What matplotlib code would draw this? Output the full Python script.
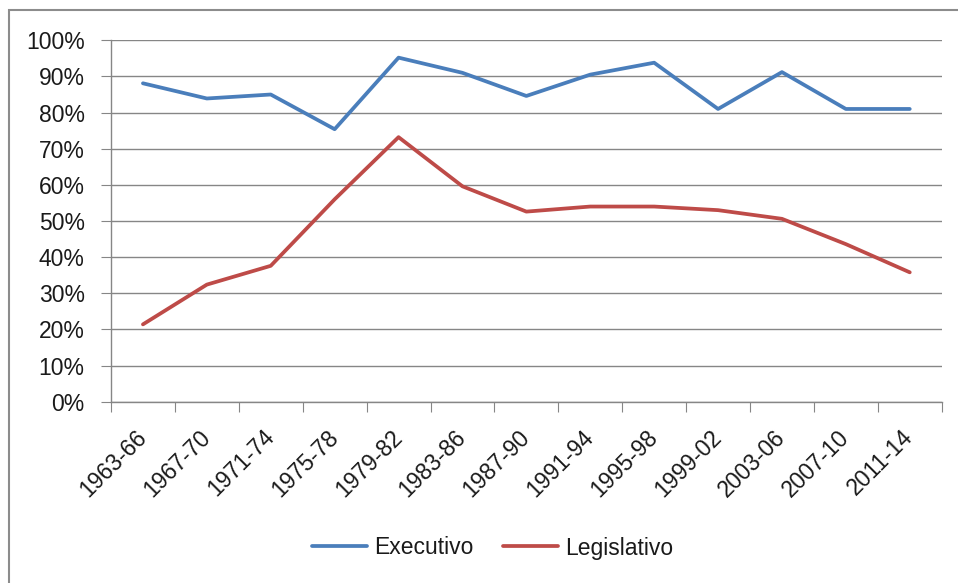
import matplotlib
matplotlib.use("Agg")
import matplotlib.pyplot as plt
from matplotlib.patches import Rectangle
from matplotlib.ticker import FixedLocator, PercentFormatter
import numpy as np

# data
periods = ["1963-66", "1967-70", "1971-74", "1975-78", "1979-82", "1983-86", "1987-90",
           "1991-94", "1995-98", "1999-02", "2003-06", "2007-10", "2011-14"]
executivo = [88.1, 83.9, 85.0, 75.4, 95.2, 91.0, 84.6, 90.5, 93.8, 81.0, 91.2, 81.0, 81.0]
legislativo = [21.4, 32.4, 37.6, 56.0, 73.2, 59.6, 52.6, 54.0, 54.0, 53.0, 50.6, 43.6, 35.8]

plt.rcParams['font.family'] = ['Liberation Sans', 'DejaVu Sans']

fig = plt.figure(figsize=(9.58, 5.83), dpi=100)
W, H = 958, 583
ax = fig.add_axes([111 / W, 1 - 401.7 / H, 830.7 / W, 361.4 / H])

# outer chart frame (only top and left edges visible in reference)
fig.patches.append(Rectangle((9 / W, -0.1), 1.2, 1.1 - 10 / H, transform=fig.transFigure,
                             fill=False, edgecolor="#8c8c8c", linewidth=1.5))

x = np.arange(len(periods))
ax.plot(x, executivo, color="#4A7EBB", linewidth=2.7, label="Executivo", solid_capstyle="round")
ax.plot(x, legislativo, color="#BE4B48", linewidth=2.7, label="Legislativo", solid_capstyle="round")

ax.set_xlim(-0.5, len(periods) - 0.5)
ax.set_ylim(0, 100)
ax.set_yticks(np.arange(0, 101, 10))
ax.yaxis.set_major_formatter(PercentFormatter(decimals=0))
ax.grid(axis="y", color="#868686", linewidth=1.0)
ax.set_axisbelow(True)

# category boundary ticks, labels at centers
ax.xaxis.set_major_locator(FixedLocator(np.arange(-0.5, len(periods), 1.0)))
ax.xaxis.set_major_formatter(plt.NullFormatter())
ax.xaxis.set_minor_locator(FixedLocator(x))
ax.set_xticklabels(periods, minor=True, rotation=45, ha="right", va="center",
                   rotation_mode="anchor", fontsize=16.5, color="#1a1a1a")
ax.tick_params(axis="x", which="minor", length=0, pad=23)
ax.tick_params(axis="x", which="major", length=7, color="#868686")
ax.tick_params(axis="y", length=7, color="#868686", pad=12, labelsize=16.5, labelcolor="#1a1a1a")

for s in ["top", "right"]:
    ax.spines[s].set_visible(False)
for s in ["left", "bottom"]:
    ax.spines[s].set_color("#868686")
    ax.spines[s].set_linewidth(1.0)

fig.legend(loc="center", bbox_to_anchor=(0.514, 1 - 548 / H), ncol=2, frameon=False,
           fontsize=16.5, handlelength=2.4, handletextpad=0.3, columnspacing=1.3,
           labelcolor="#1a1a1a")

fig.savefig("out.png", dpi=100)
